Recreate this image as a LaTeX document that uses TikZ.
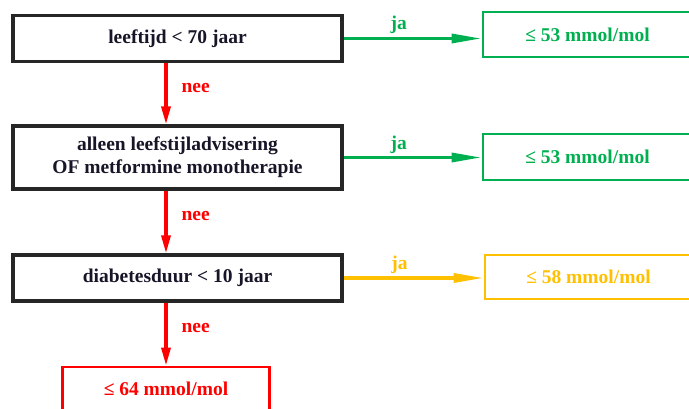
\documentclass[tikz,border=0pt]{standalone}
\usepackage{fontspec}
\setmainfont{Liberation Serif}
\usetikzlibrary{arrows.meta}
\definecolor{okgreen}{RGB}{0,176,80}
\definecolor{okyellow}{RGB}{255,192,0}
\definecolor{okred}{RGB}{255,0,0}
\definecolor{txtdark}{RGB}{22,22,40}
\tikzset{
  basefont/.style={font=\fontsize{19.5}{23}\selectfont\bfseries},
  qbox/.style={basefont, draw=black!85, line width=3.2pt, text=txtdark, align=center, inner sep=0pt, minimum width=329pt},
  abox/.style={basefont, draw=#1, line width=2.8pt, text=#1, inner sep=0pt},
  harrow/.style={draw=#1, line width=3.3pt, -{Triangle[length=30pt, width=9pt]}},
  varrow/.style={draw=okred, line width=3.3pt, -{Triangle[length=18pt, width=9pt]}},
  lbl/.style={basefont, text=#1, inner sep=0pt}
}
\begin{document}
\begin{tikzpicture}[x=1pt,y=-1pt]
\useasboundingbox (0,0) rectangle (689,409);
\clip (0,0) rectangle (689,409);
\node[qbox, minimum height=46pt] (b1) at (177.5,38.5) {leeftijd < 70 jaar};
\node[qbox, minimum height=63pt] (b2) at (177.5,157.5) {alleen leefstijladvisering\\OF metformine monotherapie};
\node[qbox, minimum height=46pt] (b3) at (177.5,278) {diabetesduur < 10 jaar};
\node[abox=okgreen, minimum width=209pt, minimum height=45pt] (g1) at (587.5,34.5) {≤ 53 mmol/mol};
\node[abox=okgreen, minimum width=209pt, minimum height=46pt] (g2) at (587.5,157) {≤ 53 mmol/mol};
\node[abox=okyellow, minimum width=207pt, minimum height=44pt] (y1) at (588.5,277) {≤ 58 mmol/mol};
\node[abox=okred, minimum width=207pt, minimum height=44pt] (r1) at (166,389) {≤ 64 mmol/mol};
\draw[harrow=okgreen] (b1.east) -- (b1.east -| g1.west) node[lbl=okgreen, pos=0.4, yshift=14pt] {ja};
\draw[harrow=okgreen] (b2.east) -- (b2.east -| g2.west) node[lbl=okgreen, pos=0.4, yshift=13pt] {ja};
\draw[harrow=okyellow] (b3.east) -- (b3.east -| y1.west) node[lbl=okyellow, pos=0.4, yshift=13pt] {ja};
\draw[varrow] (b1.south -| r1.north) -- (b2.north -| r1.north) node[lbl=okred, pos=0.4, anchor=west, xshift=14pt] {nee};
\draw[varrow] (b2.south -| r1.north) -- (b3.north -| r1.north) node[lbl=okred, pos=0.4, anchor=west, xshift=14pt] {nee};
\draw[varrow] (b3.south -| r1.north) -- (r1.north) node[lbl=okred, pos=0.4, anchor=west, xshift=14pt] {nee};
\end{tikzpicture}
\end{document}
